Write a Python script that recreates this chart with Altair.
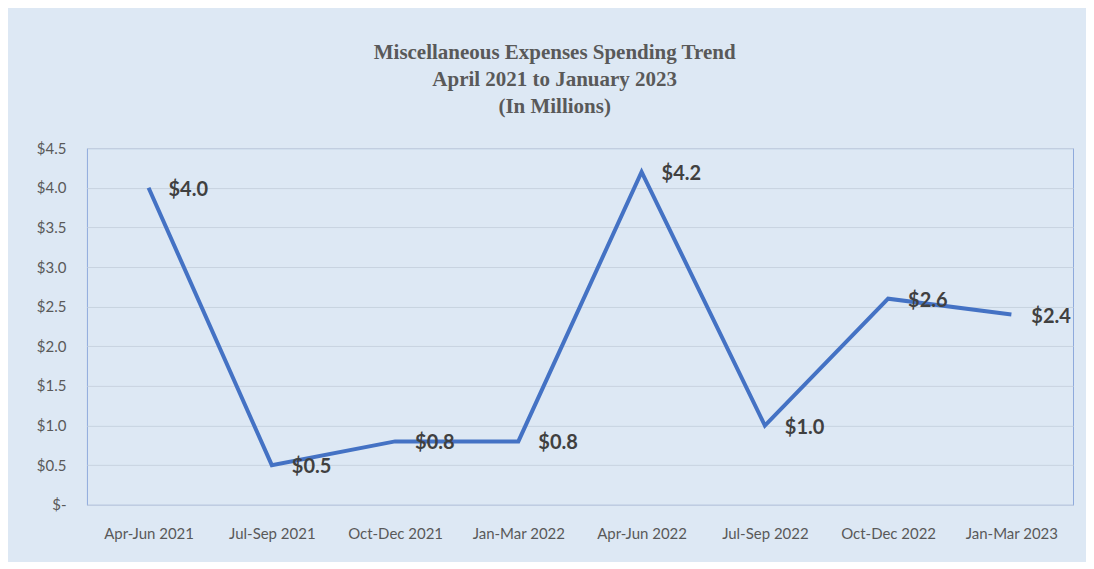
import altair as alt
import pandas as pd

quarters = ["Apr-Jun 2021", "Jul-Sep 2021", "Oct-Dec 2021", "Jan-Mar 2022",
            "Apr-Jun 2022", "Jul-Sep 2022", "Oct-Dec 2022", "Jan-Mar 2023"]
expenses = [4.0, 0.5, 0.8, 0.8, 4.2, 1.0, 2.6, 2.4]
y_ticks = [0.0, 0.5, 1.0, 1.5, 2.0, 2.5, 3.0, 3.5, 4.0, 4.5]
title_lines = ["Miscellaneous Expenses Spending Trend",
               "April 2021 to January 2023",
               "(In Millions)"]

df = pd.DataFrame({"quarter": quarters, "value": expenses})

x = alt.X("quarter:N", sort=quarters, title=None,
          axis=alt.Axis(labelAngle=0, labelFont="Lato", labelFontSize=15,
                        labelColor="#595959", labelPadding=22, ticks=False,
                        domain=False, grid=False))
y = alt.Y("value:Q", title=None,
          scale=alt.Scale(domain=[0, 4.5], nice=False),
          axis=alt.Axis(values=y_ticks, labelFont="Lato", labelFontSize=15,
                        labelColor="#595959", labelPadding=21, ticks=False,
                        domain=False, gridColor="#c8d3e0", gridWidth=1,
                        labelOverlap=False, labelFlush=False,
                        labelExpr="datum.value == 0 ? '$-' : '$' + format(datum.value, '.1f')"))

base = alt.Chart(df).encode(x=x, y=y)

line = base.mark_line(color="#4472c4", strokeWidth=4)

labels = base.transform_calculate(
    label="'$' + format(datum.value, '.1f')"
).mark_text(align="left", baseline="middle", dx=20, dy=2, font="Lato",
            fontWeight="bold", fontSize=20, color="#404040").encode(
    text="label:N",
)

chart = alt.layer(line, labels).properties(
    width=987,
    height=357,
    padding={"left": 28, "top": 34, "right": 13, "bottom": 20},
    background="#dde8f4",
    title=alt.TitleParams(text=title_lines, font="Liberation Serif",
                          fontSize=21, fontWeight="bold", color="#595959",
                          lineHeight=27, anchor="middle", frame="bounds",
                          offset=24),
).configure_view(fill="#dde8f4", stroke="#8faadc", strokeWidth=1)

chart.save("out.html", embed_options={"renderer": "svg", "actions": False})
